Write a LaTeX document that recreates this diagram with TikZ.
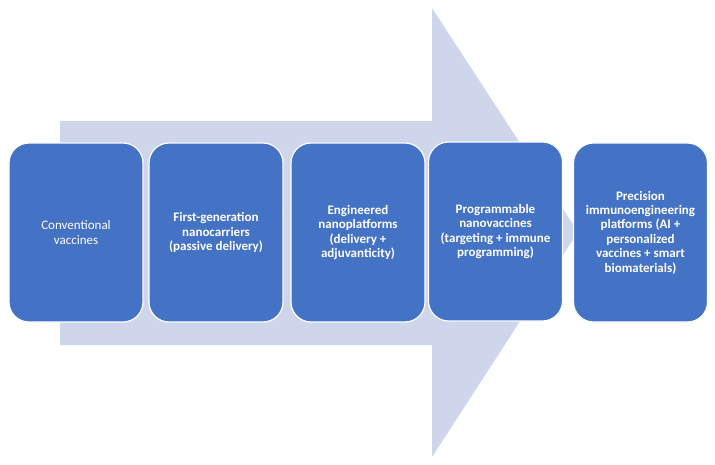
\documentclass[tikz,border=0pt]{standalone}
\usepackage{fontspec}
\setmainfont{Carlito}
\definecolor{arrowgray}{HTML}{CFD5EA}
\definecolor{stageblue}{HTML}{4472C4}
\tikzset{
  stage/.style={draw=white, line width=1.2pt, fill=stageblue, rounded corners=20pt,
    minimum width=134pt, minimum height=179pt, text=white, align=center,
    font=\fontsize{13}{14.4}\selectfont, inner sep=2pt},
  boldstage/.style={stage, font=\fontsize{13}{14.4}\selectfont\bfseries}
}
\begin{document}
\begin{tikzpicture}[x=1pt, y=-1pt]
\useasboundingbox (0,0) rectangle (715,465);
% big background arrow
\fill[arrowgray] (60,121) -- (432,121) -- (432,8) -- (578,232) -- (432,457) -- (432,345) -- (60,345) -- cycle;
% the five stages
\node[stage] (conv) at (76,232.5) {Conventional\\vaccines};
\node[boldstage] (first) at (216,232.5) {First-generation\\nanocarriers\\(passive delivery)};
\node[boldstage] (eng) at (358,232.5) {Engineered\\nanoplatforms\\(delivery +\\adjuvanticity)};
\node[boldstage] (prog) at (495.5,231.5) {Programmable\\nanovaccines\\(targeting + immune\\programming)};
\node[boldstage] (prec) at (640.5,232.5) {Precision\\immunoengineering\\platforms (AI +\\personalized\\vaccines + smart\\biomaterials)};
\end{tikzpicture}
\end{document}
